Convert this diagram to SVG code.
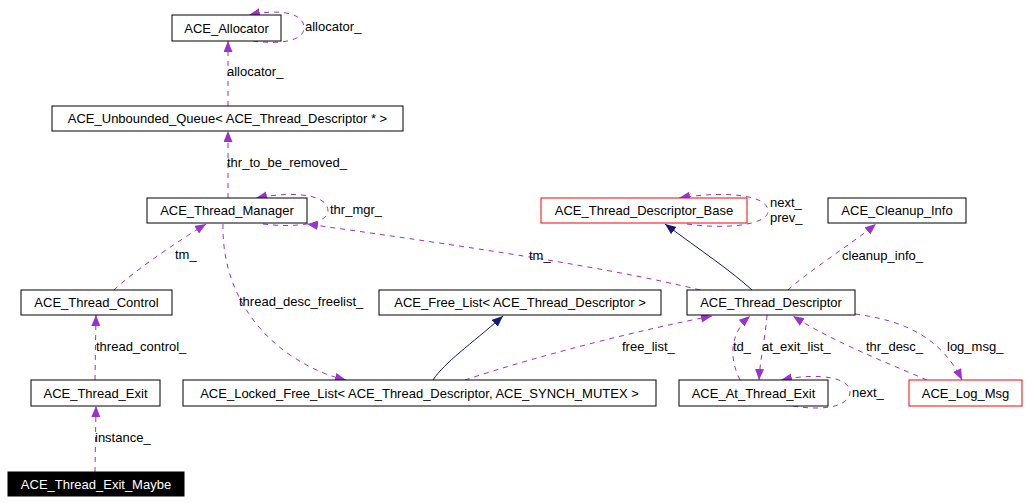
<svg xmlns="http://www.w3.org/2000/svg" width="1029" height="503" viewBox="0 0 1029 503">
<style>
.n rect{fill:#fff;stroke:#000;stroke-width:1}
.n text{font-family:"Liberation Sans",Arial,sans-serif;font-size:13px;fill:#000;text-anchor:middle}
.red rect{stroke:#ff0000}
.blk rect{fill:#000}
.blk text{fill:#fff}
.e path{fill:none;stroke:#9a32cd;stroke-width:1;stroke-dasharray:5,5}
.e path.inh{stroke:#191970;stroke-dasharray:none}
.e text{font-family:"Liberation Sans",Arial,sans-serif;font-size:13px;fill:#000}
</style>
<defs>
<marker id="ap" markerWidth="12" markerHeight="10" refX="11" refY="4.5" orient="auto" markerUnits="userSpaceOnUse"><path d="M0,0 L11,4.5 L0,9 z" fill="#9a32cd"/></marker>
<marker id="an" markerWidth="12" markerHeight="10" refX="11" refY="4.5" orient="auto" markerUnits="userSpaceOnUse"><path d="M0,0 L11,4.5 L0,9 z" fill="#191970"/></marker>
</defs>
<rect width="1029" height="503" fill="#fff"/>
<g class="e" id="edges">
<path d="M253,41 C283,45 304,40 304,28 C304,14 283,8 249,15" marker-end="url(#ap)"/>
<text x="305" y="31">allocator_</text>
<path d="M228,106 L228,41" marker-end="url(#ap)"/>
<text x="227" y="76">allocator_</text>
<path d="M228,198 L228,131" marker-end="url(#ap)"/>
<text x="227" y="167">thr_to_be_removed_</text>
<path d="M263,224 C295,228 328,224 328,211 C328,196 300,190 256,198" marker-end="url(#ap)"/>
<text x="330" y="214">thr_mgr_</text>
<path d="M114,290 C135,270 180,240 206,224" marker-end="url(#ap)"/>
<text x="175" y="259">tm_</text>
<path d="M95,380 L96,315" marker-end="url(#ap)"/>
<text x="96" y="351">thread_control_</text>
<path d="M95,472 L96,406" marker-end="url(#ap)"/>
<text x="95" y="442">instance_</text>
<path d="M223,224 C222,270 240,320 290,355 C310,368 325,375 346,380" marker-end="url(#ap)"/>
<text x="239" y="306">thread_desc_freelist_</text>
<path d="M700,290 C600,265 420,240 307,224" marker-end="url(#ap)"/>
<text x="529" y="260">tm_</text>
<path class="inh" d="M433,380 C445,362 470,345 503,316" marker-end="url(#an)"/>
<path class="inh" d="M752,290 C730,270 700,250 665,224" marker-end="url(#an)"/>
<path d="M687,224 C730,230 768,224 768,211 C768,196 730,190 679,198" marker-end="url(#ap)"/>
<text x="770" y="207">next_</text>
<text x="770" y="222">prev_</text>
<path d="M788,290 C810,270 850,245 876,224" marker-end="url(#ap)"/>
<text x="842" y="260">cleanup_info_</text>
<path d="M465,380 C540,355 640,330 712,316" marker-end="url(#ap)"/>
<text x="622" y="351">free_list_</text>
<path d="M740,380 C730,360 728,335 750,316" marker-end="url(#ap)"/>
<text x="733" y="351">td_</text>
<path d="M767,315 C765,340 760,360 759,380" marker-end="url(#ap)"/>
<text x="762" y="351">at_exit_list_</text>
<path d="M793,406 C830,412 850,404 850,392 C850,378 820,372 781,380" marker-end="url(#ap)"/>
<text x="852" y="397">next_</text>
<path d="M927,380 C880,360 830,340 793,316" marker-end="url(#ap)"/>
<text x="866" y="351">thr_desc_</text>
<path d="M855,314 C900,320 940,335 962,380" marker-end="url(#ap)"/>
<text x="947" y="351">log_msg_</text>
</g>
<g class="n" id="ACE_Allocator"><rect x="172" y="15" width="109" height="26"/><text x="226.5" y="32.5">ACE_Allocator</text></g>
<g class="n" id="ACE_Unbounded_Queue"><rect x="52" y="106" width="351" height="25"/><text x="227.5" y="123">ACE_Unbounded_Queue&lt; ACE_Thread_Descriptor * &gt;</text></g>
<g class="n" id="ACE_Thread_Manager"><rect x="147" y="198" width="160" height="25"/><text x="227" y="215">ACE_Thread_Manager</text></g>
<g class="n red" id="ACE_Thread_Descriptor_Base"><rect x="541" y="198" width="206" height="25"/><text x="644" y="215">ACE_Thread_Descriptor_Base</text></g>
<g class="n" id="ACE_Cleanup_Info"><rect x="828" y="198" width="138" height="25"/><text x="897" y="215">ACE_Cleanup_Info</text></g>
<g class="n" id="ACE_Thread_Control"><rect x="21" y="290" width="151" height="25"/><text x="96.5" y="307">ACE_Thread_Control</text></g>
<g class="n" id="ACE_Free_List"><rect x="379" y="290" width="282" height="25"/><text x="520" y="307">ACE_Free_List&lt; ACE_Thread_Descriptor &gt;</text></g>
<g class="n" id="ACE_Thread_Descriptor"><rect x="687" y="290" width="168" height="25"/><text x="771" y="307">ACE_Thread_Descriptor</text></g>
<g class="n" id="ACE_Thread_Exit"><rect x="31" y="380" width="129" height="26"/><text x="95.5" y="397.5">ACE_Thread_Exit</text></g>
<g class="n" id="ACE_Locked_Free_List"><rect x="183" y="380" width="473" height="26"/><text x="419.5" y="397.5">ACE_Locked_Free_List&lt; ACE_Thread_Descriptor, ACE_SYNCH_MUTEX &gt;</text></g>
<g class="n" id="ACE_At_Thread_Exit"><rect x="679" y="380" width="149" height="26"/><text x="753.5" y="397.5">ACE_At_Thread_Exit</text></g>
<g class="n red" id="ACE_Log_Msg"><rect x="909" y="380" width="113" height="26"/><text x="965.5" y="397.5">ACE_Log_Msg</text></g>
<g class="n blk" id="ACE_Thread_Exit_Maybe"><rect x="8" y="472" width="176" height="24"/><text x="96" y="488.5">ACE_Thread_Exit_Maybe</text></g>
</svg>
